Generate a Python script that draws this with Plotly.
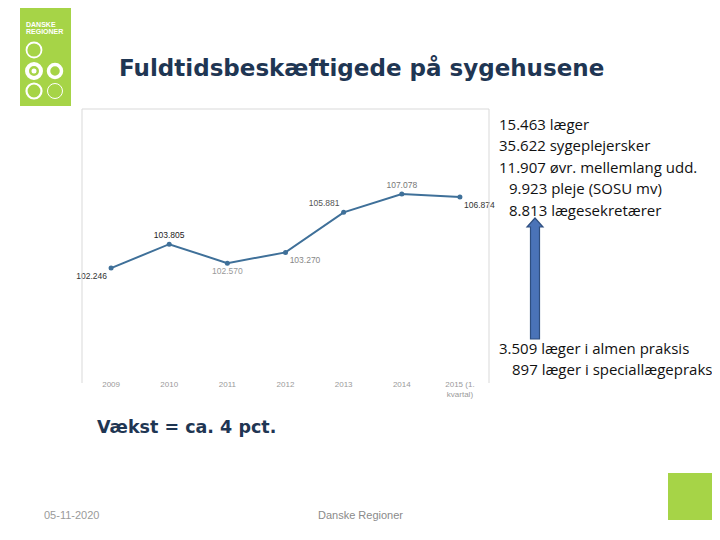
import plotly.graph_objects as go

# ---- data ----
years = ["2009", "2010", "2011", "2012", "2013", "2014", "2015 (1.<br>kvartal)"]
fte = [102246, 103805, 102570, 103270, 105881, 107078, 106874]
fte_labels = ["102.246", "103.805", "102.570", "103.270", "105.881", "107.078", "106.874"]
label_pos = ["bottom left", "top center", "bottom center", "bottom right",
             "top left", "top center", "bottom right"]
label_col = ["#333333", "#222222", "#999999", "#888888", "#555555", "#777777", "#333333"]

staff_top = ["15.463 læger", "35.622 sygeplejersker", "11.907 øvr. mellemlang udd.",
             "9.923 pleje (SOSU mv)", "8.813 lægesekretærer"]
staff_bottom = ["3.509 læger i almen praksis", "897 læger i speciallægepraksis"]

W, H = 720, 540
OFF = 8  # page body margin offset
def px(x): return (x - OFF) / W
def py(y): return 1 - (y - OFF) / H

fig = go.Figure()
fig.add_trace(go.Scatter(
    x=list(range(len(years))), y=fte, mode="lines+markers+text",
    line=dict(color="#3f7099", width=2), marker=dict(size=5, color="#3f7099"),
    text=fte_labels, textposition=label_pos,
    textfont=dict(size=8.5, color=label_col, family="Liberation Sans"),
    hoverinfo="skip", showlegend=False, cliponaxis=False))

fig.update_layout(
    width=W, height=H, margin=dict(l=0, r=0, t=0, b=0),
    paper_bgcolor="white", plot_bgcolor="white",
    xaxis=dict(domain=[px(82), px(489)], range=[-0.5, 6.5],
               tickmode="array", tickvals=list(range(len(years))), ticktext=years,
               tickfont=dict(size=8, color="#9a9a9a", family="Liberation Sans"),
               showgrid=False, zeroline=False, showline=False, ticks=""),
    yaxis=dict(domain=[py(378), py(109)], range=[95084, 112616],
               showticklabels=False, showgrid=False, zeroline=False, showline=False),
)

shapes = []
border = "#d9d9d9"
shapes.append(dict(type="line", xref="paper", yref="paper", x0=px(82), x1=px(489), y0=py(109), y1=py(109), line=dict(color=border, width=1)))
shapes.append(dict(type="line", xref="paper", yref="paper", x0=px(82), x1=px(82), y0=py(109), y1=py(383), line=dict(color=border, width=1)))
shapes.append(dict(type="line", xref="paper", yref="paper", x0=px(489), x1=px(489), y0=py(109), y1=py(383), line=dict(color=border, width=1)))

green = "#a6d447"
shapes.append(dict(type="rect", xref="paper", yref="paper", x0=px(20), x1=px(71), y0=py(106), y1=py(0), fillcolor=green, line=dict(width=0), layer="below"))
def circle(cx, cy, r, w, fill=None):
    shapes.append(dict(type="circle", xref="paper", yref="paper",
                       x0=px(cx - r), x1=px(cx + r), y0=py(cy + r), y1=py(cy - r),
                       line=dict(color="white", width=w), fillcolor=fill or "rgba(0,0,0,0)"))
circle(34, 50, 7.5, 1.8)
circle(34, 71, 7, 4)
circle(34, 71, 2.5, 0, "white")
circle(55, 71, 6.5, 3.5)
circle(34, 91, 7.5, 2.2)
circle(55, 91, 7.5, 1)
shapes.append(dict(type="rect", xref="paper", yref="paper", x0=px(668), x1=px(730), y0=py(520), y1=py(473), fillcolor=green, line=dict(width=0)))
ax, tip, base, hb = 535, 218, 339, 227
path = (f"M {px(ax-4.5)} {py(base)} L {px(ax-4.5)} {py(hb)} L {px(ax-8)} {py(hb)} "
        f"L {px(ax)} {py(tip)} L {px(ax+8)} {py(hb)} L {px(ax+4.5)} {py(hb)} L {px(ax+4.5)} {py(base)} Z")
shapes.append(dict(type="path", xref="paper", yref="paper", path=path,
                   fillcolor="#4a73b8", line=dict(color="#2f4f80", width=1.2)))
fig.update_layout(shapes=shapes)

ann = []
def text(x, y, s, size, color, family="Open Sans", anchor="left", bold=False):
    ann.append(dict(xref="paper", yref="paper", x=px(x), y=py(y), text=f"<b>{s}</b>" if bold else s,
                    showarrow=False, xanchor=anchor, yanchor="middle",
                    font=dict(size=size, color=color, family=family)))

text(361, 68, "Fuldtidsbeskæftigede på sygehusene", 23, "#1f3653", "DejaVu Sans", "center", True)
text(24, 24, "DANSKE", 7, "white", "Liberation Sans", "left", True)
text(24, 32, "REGIONER", 7, "white", "Liberation Sans", "left", True)

tops_x = [497, 497, 497, 507, 507]
tops_y = [124, 145, 167, 188, 210]
for s, x, y in zip(staff_top, tops_x, tops_y):
    text(x, y, s, 15, "#111111")
for s, x, y in zip(staff_bottom, [497, 510], [348, 369]):
    text(x, y, s, 15, "#111111")

text(95, 427, "Vækst = ca. 4 pct.", 17.5, "#1f3653", "DejaVu Sans", "left", True)
text(42, 515, "05-11-2020", 11, "#9a9a9a", "Liberation Sans")
text(360, 515, "Danske Regioner", 11, "#8a8a8a", "Liberation Sans", "center")
fig.update_layout(annotations=ann)

fig.write_html("out.html")
